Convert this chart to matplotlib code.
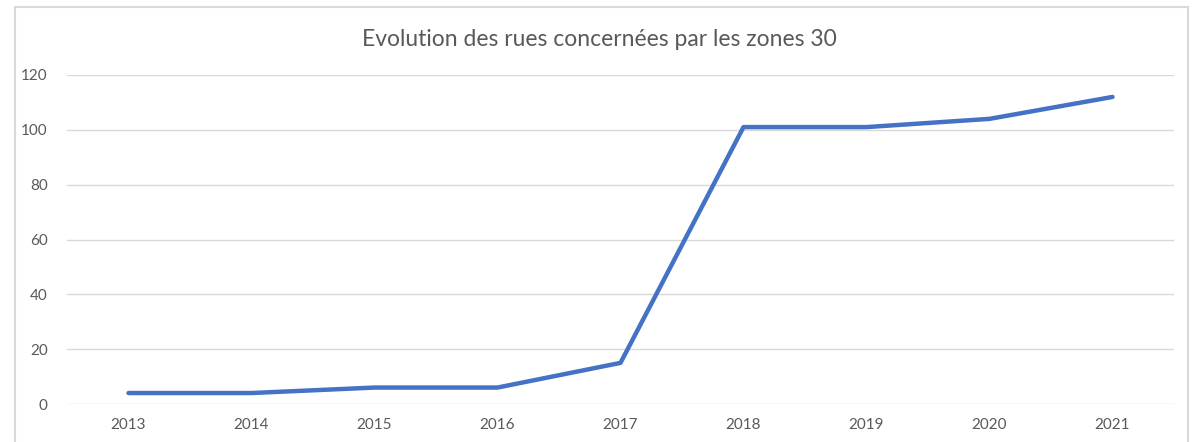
import matplotlib
matplotlib.use("Agg")
import matplotlib.pyplot as plt
from matplotlib.patches import Rectangle

years = ["2013", "2014", "2015", "2016", "2017", "2018", "2019", "2020", "2021"]
values = [4, 4, 6, 6, 15, 101, 101, 104, 112]
yticks = [0, 20, 40, 60, 80, 100, 120]
title = "Evolution des rues concernées par les zones 30"

W, H = 1194, 442
fig = plt.figure(figsize=(W / 100, H / 100), dpi=100)
plt.rcParams['font.family'] = ['Lato', 'DejaVu Sans']

# chart frame
fig.patches.append(Rectangle((15 / W, -0.1), (1188 - 15) / W, 1.1 - 7 / H,
                             transform=fig.transFigure, fill=False,
                             edgecolor='#d9d9d9', linewidth=1.5))

ax = fig.add_axes([67 / W, 1 - 404 / H, (1174 - 67) / W, (404 - 75) / H])
x = list(range(len(years)))
ax.plot(x, values, color='#4472C4', linewidth=3.2, solid_capstyle='round',
        solid_joinstyle='round', zorder=3)
ax.set_xlim(-0.5, len(years) - 0.5)
ax.set_ylim(0, 120)
ax.set_yticks(yticks)
ax.set_xticks(x)
ax.set_xticklabels(years)
for s in ax.spines.values():
    s.set_visible(False)
ax.grid(axis='y', color='#d9d9d9', linewidth=1.0)
ax.set_axisbelow(True)
ax.tick_params(axis='both', length=0, labelsize=11, labelcolor='#595959')
ax.tick_params(axis='y', pad=14)
ax.tick_params(axis='x', pad=10)
fig.text(599 / W, 1 - 40 / H, title, ha='center', va='center',
         fontsize=16.5, color='#595959')

fig.savefig("out.png", dpi=100)
